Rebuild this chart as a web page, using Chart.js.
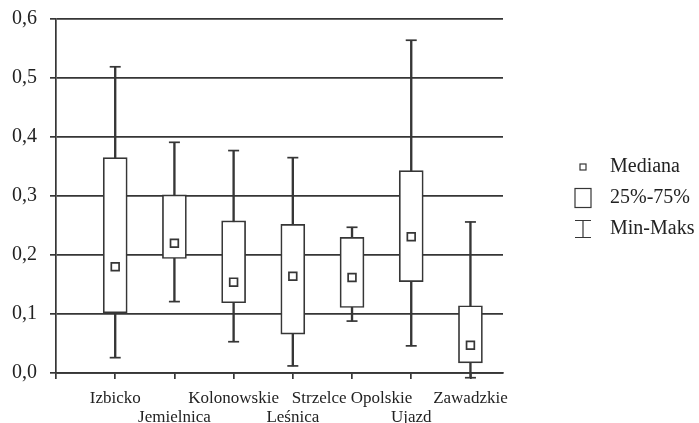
<!DOCTYPE html>
<html>
<head>
<meta charset="utf-8">
<script src="https://cdn.jsdelivr.net/npm/chart.js@4/dist/chart.umd.min.js"></script>
<style>
  body { margin: 0; background: #fff; }
</style>
</head>
<body>
<canvas id="boxChart" width="699" height="423"></canvas>
<script>
// values
var categories = ['Izbicko', 'Jemielnica', 'Kolonowskie', 'Leśnica', 'Strzelce Opolskie', 'Ujazd', 'Zawadzkie'];
var minVals    = [0.026, 0.121, 0.053, 0.012, 0.088, 0.046, -0.008];
var q1Vals     = [0.102, 0.194, 0.119, 0.066, 0.111, 0.155, 0.017];
var medianVals = [0.180, 0.220, 0.154, 0.164, 0.162, 0.231, 0.047];
var q3Vals     = [0.365, 0.302, 0.258, 0.252, 0.230, 0.343, 0.114];
var maxVals    = [0.519, 0.391, 0.377, 0.365, 0.247, 0.564, 0.256];
var yTicks     = [0, 0.1, 0.2, 0.3, 0.4, 0.5, 0.6];
var legendLabels = ['Mediana', '25%-75%', 'Min-Maks'];

var ink = '#363636';
var serif = 'Liberation Serif';

function pts(vals) {
  return vals.map(function (v, i) { return { x: i + 1, y: v }; });
}
function ranges(lo, hi) {
  return lo.map(function (v, i) { return { x: i + 1, y: [v, hi[i]] }; });
}

// legend symbols, drawn at the right side of a wide canvas to leave a gap
var symW = 86, symX = 69;
function symbol(kind) {
  var c = document.createElement('canvas');
  c.width = symW; c.height = 22;
  var g = c.getContext('2d');
  g.strokeStyle = ink;
  g.lineWidth = 1.2;
  if (kind === 0) {
    g.strokeRect(symX - 3, 8, 6, 6);
  } else if (kind === 1) {
    g.strokeRect(symX - 8, 1.5, 16, 19);
  } else {
    g.beginPath();
    g.moveTo(symX - 8, 2.5); g.lineTo(symX + 8, 2.5);
    g.moveTo(symX, 2.5); g.lineTo(symX, 19.5);
    g.moveTo(symX - 8, 19.5); g.lineTo(symX + 8, 19.5);
    g.stroke();
  }
  return c;
}

// fixed legend width so the plot ends where it does in the source
var legendWidth = {
  id: 'legendWidth',
  beforeLayout: function (chart) {
    var lg = chart.legend;
    if (lg && !lg._fixedWidth) {
      var fit = lg.fit;
      lg.fit = function () { fit.call(this); this.width = 196; };
      lg._fixedWidth = true;
    }
  }
};

var ctx = document.getElementById('boxChart').getContext('2d');
var boxChart = new Chart(ctx, {
  type: 'bar',
  data: {
    datasets: [
      {
        type: 'scatter',
        label: 'Mediana',
        data: pts(medianVals),
        pointStyle: 'rect',
        pointRadius: 5.5,
        backgroundColor: '#fff',
        borderColor: ink,
        borderWidth: 1.7,
        order: 0,
        clip: false
      },
      {
        type: 'scatter',
        label: 'Maks',
        data: pts(maxVals),
        pointStyle: 'line',
        pointRadius: 5.5,
        borderColor: ink,
        borderWidth: 1.7,
        order: 1,
        clip: false
      },
      {
        type: 'scatter',
        label: 'Min',
        data: pts(minVals),
        pointStyle: 'line',
        pointRadius: 5.5,
        borderColor: ink,
        borderWidth: 1.7,
        order: 1,
        clip: false
      },
      {
        label: '25%-75%',
        data: ranges(q1Vals, q3Vals),
        backgroundColor: '#fff',
        borderColor: ink,
        borderWidth: 1.7,
        borderSkipped: false,
        barThickness: 24,
        grouped: false,
        order: 2,
        clip: false
      },
      {
        label: 'Min-Maks',
        data: ranges(minVals, maxVals),
        backgroundColor: ink,
        borderWidth: 0,
        barThickness: 1.7,
        grouped: false,
        order: 3,
        clip: false
      }
    ]
  },
  options: {
    responsive: false,
    animation: false,
    layout: { padding: { top: 19, left: 10, right: 0, bottom: 0 } },
    scales: {
      x: {
        type: 'linear',
        min: 0,
        max: 7.55,
        offset: false,
        afterBuildTicks: function (scale) {
          scale.ticks = [{ value: 0 }].concat(categories.map(function (c, i) { return { value: i + 1 }; }));
        },
        afterFit: function (scale) { scale.height = 50; },
        grid: { drawOnChartArea: false, offset: false, tickLength: 6, color: ink, lineWidth: 1.7 },
        border: { color: ink, width: 1.7 },
        ticks: {
          autoSkip: false,
          maxRotation: 0,
          padding: 10,
          color: '#222',
          font: { family: serif, size: 17, lineHeight: 1.12 },
          callback: function (v) {
            var i = Math.round(v) - 1;
            if (i < 0 || i >= categories.length) return '';
            return i % 2 === 0 ? [categories[i], ''] : ['', categories[i]];
          }
        }
      },
      y: {
        min: 0,
        max: 0.6,
        afterBuildTicks: function (scale) {
          scale.ticks = yTicks.map(function (v) { return { value: v }; });
        },
        afterFit: function (scale) {
          scale.width = 46;
          scale.paddingTop = 0;
          scale.paddingBottom = 0;
        },
        grid: { color: ink, lineWidth: 1.7, tickLength: 6 },
        border: { color: ink, width: 1.7 },
        ticks: {
          padding: 13,
          color: '#222',
          font: { family: serif, size: 20 },
          callback: function (v) { return v.toFixed(1).replace('.', ','); }
        }
      }
    },
    plugins: {
      tooltip: { enabled: false },
      legend: {
        position: 'right',
        align: 'start',
        // empty title only used as a spacer above the items
        title: { display: true, text: ' ', color: '#222', font: { size: 5, lineHeight: 1 }, padding: { top: 0, bottom: 122 } },
        labels: {
          usePointStyle: true,
          pointStyleWidth: symW,
          padding: 11,
          color: '#222',
          font: { family: serif, size: 20 },
          generateLabels: function () {
            return legendLabels.map(function (t, i) {
              return { text: t, fontColor: '#222', pointStyle: symbol(i), fillStyle: '#fff', strokeStyle: ink, lineWidth: 0, datasetIndex: i };
            });
          }
        }
      }
    }
  },
  plugins: [legendWidth]
});
</script>
</body>
</html>
